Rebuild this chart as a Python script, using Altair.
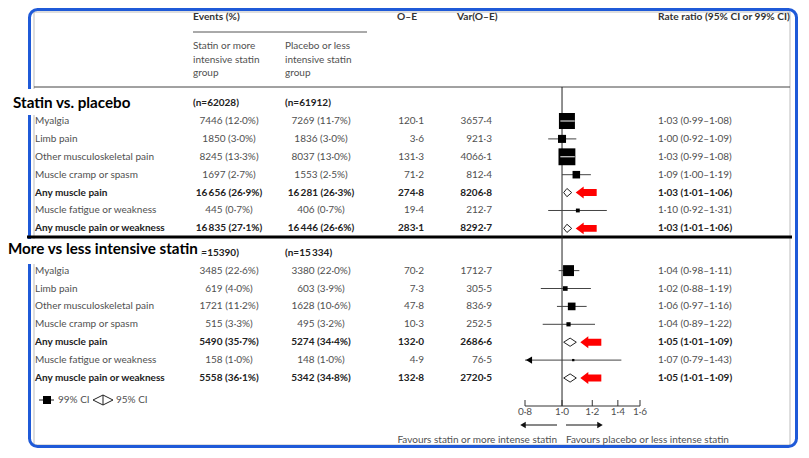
import altair as alt
import pandas as pd

# ---------------- data ----------------
outcomes = ["Myalgia", "Limb pain", "Other musculoskeletal pain", "Muscle cramp or spasm",
            "Any muscle pain", "Muscle fatigue or weakness", "Any muscle pain or weakness"]
is_total = [False, False, False, False, True, False, True]

s1_statin_n = [7446, 1850, 8245, 1697, 16656, 445, 16835]
s1_statin_pct = [12.0, 3.0, 13.3, 2.7, 26.9, 0.7, 27.1]
s1_placebo_n = [7269, 1836, 8037, 1553, 16281, 406, 16446]
s1_placebo_pct = [11.7, 3.0, 13.0, 2.5, 26.3, 0.7, 26.6]
s1_oe = [120.1, 3.6, 131.3, 71.2, 274.8, 19.4, 283.1]
s1_var = [3657.4, 921.3, 4066.1, 812.4, 8206.8, 212.7, 8292.7]
s1_rr = [1.03, 1.00, 1.03, 1.09, 1.03, 1.10, 1.03]
s1_lo = [0.99, 0.92, 0.99, 1.00, 1.01, 0.92, 1.01]
s1_hi = [1.08, 1.09, 1.08, 1.19, 1.06, 1.31, 1.06]

s2_statin_n = [3485, 619, 1721, 515, 5490, 158, 5558]
s2_statin_pct = [22.6, 4.0, 11.2, 3.3, 35.7, 1.0, 36.1]
s2_placebo_n = [3380, 603, 1628, 495, 5274, 148, 5342]
s2_placebo_pct = [22.0, 3.9, 10.6, 3.2, 34.4, 1.0, 34.8]
s2_oe = [70.2, 7.3, 47.8, 10.3, 132.0, 4.9, 132.8]
s2_var = [1712.7, 305.5, 836.9, 252.5, 2686.6, 76.5, 2720.5]
s2_rr = [1.04, 1.02, 1.06, 1.04, 1.05, 1.07, 1.05]
s2_lo = [0.98, 0.88, 0.97, 0.89, 1.01, 0.79, 1.01]
s2_hi = [1.11, 1.19, 1.16, 1.22, 1.09, 1.43, 1.09]

section_titles = ["Statin vs. placebo", "More vs less intensive statin"]
n_statin = ["(n=62028)", "(n=15390)"]
n_placebo = ["(n=61912)", "(n=15\u2009334)"]

tick_values = [0.8, 1.0, 1.2, 1.4, 1.6]
tick_labels = ["0·8", "1·0", "1·2", "1·4", "1·6"]
ref_value = [1.0]


# ---------------- helpers ----------------
def dot(x, nd=1):
    return f"{x:.{nd}f}".replace(".", "·")


def num(n):
    s = f"{n:d}"
    return s[:-3] + "\u2009" + s[-3:] if n >= 10000 else s


sections = [
    (0.0, s1_statin_n, s1_statin_pct, s1_placebo_n, s1_placebo_pct, s1_oe, s1_var, s1_rr, s1_lo, s1_hi),
    (8.36, s2_statin_n, s2_statin_pct, s2_placebo_n, s2_placebo_pct, s2_oe, s2_var, s2_rr, s2_lo, s2_hi),
]
recs = []
for off, sn, sp, pn, pp, oe, var, rr, lo, hi in sections:
    for i, lab in enumerate(outcomes):
        recs.append(dict(
            label=lab, pos=off + i, total=is_total[i],
            statin=f"{num(sn[i])} ({dot(sp[i])}%)",
            placebo=f"{num(pn[i])} ({dot(pp[i])}%)",
            oe=dot(oe[i]), var_txt=dot(var[i]), var=var[i],
            rr_txt=f"{dot(rr[i], 2)} ({dot(lo[i], 2)}–{dot(hi[i], 2)})",
            rr=rr[i], lo=lo[i], hi=hi[i], lo_c=max(lo[i], tick_values[0]),
        ))
rows = pd.DataFrame(recs)
reg = rows[~rows.total]
tot = rows[rows.total]

# diamond outlines built from the CI of the total rows
dia = []
h = 0.23
for k, r in tot.iterrows():
    for j, (xx, yy) in enumerate([(r.lo, r.pos), (r.rr, r.pos - h), (r.hi, r.pos),
                                   (r.rr, r.pos + h), (r.lo, r.pos)]):
        dia.append(dict(key=k, order=j, x=xx, y=yy))
dia = pd.DataFrame(dia)

ticks = pd.DataFrame({"tick": tick_values, "lab": tick_labels})
ref = pd.DataFrame({"v": ref_value})
one = pd.DataFrame({"k": [0]})
nlab = pd.DataFrame({"pos": [-1.0, 7.36], "s": n_statin, "p": n_placebo})

XS = alt.Scale(type="log", domain=[0.8, 1.6], range=[517, 632], nice=False)
YS = alt.Scale(domain=[0, 14.36], range=[113, 370], nice=False, zero=False)


def X(f):
    return alt.X(f, type="quantitative", scale=XS, axis=None)


def X2(f):
    return alt.X2(f)


def Y(f):
    return alt.Y(f, type="quantitative", scale=YS, axis=None)


FONT = "Lato"
GREY = "#505050"
DARK = "#222222"
FS = 10
FSH = 10.2

layers = []

# frames
layers.append(alt.Chart(one).mark_rect(fillOpacity=0, stroke="#bdbdbd", strokeWidth=1).encode(
    x=alt.value(26), x2=alt.value(782), y=alt.value(4), y2=alt.value(437)))
layers.append(alt.Chart(one).mark_rect(fillOpacity=0, stroke="#1f5ad8", strokeWidth=3, cornerRadius=8).encode(
    x=alt.value(21.5), x2=alt.value(788.5), y=alt.value(1.5), y2=alt.value(438.5)))

# header lines
layers.append(alt.Chart(one).mark_rule(color="#555", strokeWidth=1).encode(
    x=alt.value(185), x2=alt.value(359), y=alt.value(24)))
layers.append(alt.Chart(one).mark_rule(color="#444", strokeWidth=1).encode(
    x=alt.value(26), x2=alt.value(782), y=alt.value(79)))
layers.append(alt.Chart(one).mark_rule(color="#000", strokeWidth=3).encode(
    x=alt.value(19), x2=alt.value(784), y=alt.value(229)))

# header text
for t, xp in [("Events (%)", 185), ("O–E", 389), ("Var(O–E)", 449), ("Rate ratio (95% CI or 99% CI)", 650)]:
    layers.append(alt.Chart(one).mark_text(text=t, font=FONT, fontSize=FSH, fontWeight="bold", color="#333",
                                           align="left", baseline="middle").encode(x=alt.value(xp), y=alt.value(9)))
for xp, lines in [(185, ["Statin or more", "intensive statin", "group"]),
                  (277, ["Placebo or less", "intensive statin", "group"])]:
    for yp, t in zip([38, 52, 65], lines):
        layers.append(alt.Chart(one).mark_text(text=t, font=FONT, fontSize=FS, color=GREY,
                                               align="left", baseline="middle").encode(x=alt.value(xp), y=alt.value(yp)))

# n labels
layers.append(alt.Chart(nlab).mark_text(font=FONT, fontSize=FS, fontWeight="bold", color=DARK, align="left",
                                        baseline="middle").encode(x=alt.value(185), y=Y("pos"), text="s:N"))
layers.append(alt.Chart(nlab).mark_text(font=FONT, fontSize=FS, fontWeight="bold", color=DARK, align="left",
                                        baseline="middle").encode(x=alt.value(277), y=Y("pos"), text="p:N"))

# white boxes and section titles
layers.append(alt.Chart(one).mark_rect(color="white").encode(
    x=alt.value(0), x2=alt.value(176), y=alt.value(81), y2=alt.value(107)))
layers.append(alt.Chart(one).mark_rect(color="white").encode(
    x=alt.value(0), x2=alt.value(193), y=alt.value(231), y2=alt.value(256)))
for t, xp, yp in [(section_titles[0], 5, 95), (section_titles[1], 0, 241)]:
    layers.append(alt.Chart(one).mark_text(text=t, font=FONT, fontSize=15.2, fontWeight="bold", color="#000",
                                           align="left", baseline="middle").encode(x=alt.value(xp), y=alt.value(yp)))

# table columns
cols = [("label", 27, "left"), ("statin", 221, "center"), ("placebo", 313, "center"),
        ("oe", 416, "right"), ("var_txt", 484, "right"), ("rr_txt", 650, "left")]
for f, xp, al in cols:
    for d, bold in [(reg, False), (tot, True)]:
        layers.append(alt.Chart(d).mark_text(font=FONT, fontSize=FS, align=al, baseline="middle",
                                             fontWeight="bold" if bold else "normal",
                                             color=DARK if bold else GREY).encode(
            x=alt.value(xp), y=Y("pos"), text=alt.Text(f"{f}:N")))

# reference line at 1
layers.append(alt.Chart(ref).mark_rule(color="#222", strokeWidth=1).encode(
    x=X("v"), y=alt.value(79), y2=alt.value(398)))

# whiskers, squares
layers.append(alt.Chart(reg).mark_rule(color="#444", strokeWidth=1).encode(
    x=X("lo_c"), x2=X2("hi"), y=Y("pos")))
layers.append(alt.Chart(reg).mark_square(color="black", opacity=1, filled=True, strokeWidth=0).encode(
    x=X("rr"), y=Y("pos"),
    size=alt.Size("var:Q", scale=alt.Scale(domain=[0, 4100], range=[0, 287]), legend=None)))
layers.append(alt.Chart(reg).transform_filter("datum.var > 3000").mark_rule(color="white", strokeWidth=1).encode(
    x=X("lo"), x2=X2("hi"), y=Y("pos")))
layers.append(alt.Chart(reg).transform_filter("datum.lo < 0.8").mark_point(
    shape="triangle-left", filled=True, color="black", opacity=1, size=50, xOffset=4).encode(
    x=X("lo_c"), y=Y("pos")))

# diamonds
layers.append(alt.Chart(dia).mark_line(color="#222", strokeWidth=1).encode(
    x=X("x"), y=Y("y"), detail="key:N", order="order:Q"))

# red arrows
arrow = "M -1 0 L -0.24 -0.57 L -0.24 -0.33 L 1 -0.33 L 1 0.33 L -0.24 0.33 L -0.24 0.57 Z"
layers.append(alt.Chart(tot).mark_point(shape=arrow, filled=True, color="#ff0000", opacity=1, size=441,
                                        strokeWidth=0, xOffset=14.5).encode(x=X("hi"), y=Y("pos")))

# axis
layers.append(alt.Chart(ticks).mark_rule(color="#333", strokeWidth=1).encode(
    x=alt.X("min(tick):Q", scale=XS, axis=None), x2=alt.X2("max(tick)"), y=alt.value(398)))
layers.append(alt.Chart(ticks).mark_rule(color="#333", strokeWidth=1).encode(
    x=X("tick"), y=alt.value(392), y2=alt.value(398)))
layers.append(alt.Chart(ticks).mark_text(font=FONT, fontSize=FS, color=GREY, baseline="middle").encode(
    x=X("tick"), y=alt.value(404), text="lab:N"))

# favours arrows + text
layers.append(alt.Chart(one).mark_rule(color="#111", strokeWidth=1).encode(
    x=alt.value(514), x2=alt.value(549), y=alt.value(417)))
layers.append(alt.Chart(one).mark_rule(color="#111", strokeWidth=1).encode(
    x=alt.value(558), x2=alt.value(593), y=alt.value(417)))
layers.append(alt.Chart(one).mark_point(shape="triangle-left", filled=True, color="#111", opacity=1, size=40).encode(
    x=alt.value(515), y=alt.value(417)))
layers.append(alt.Chart(one).mark_point(shape="triangle-right", filled=True, color="#111", opacity=1, size=40).encode(
    x=alt.value(592), y=alt.value(417)))
layers.append(alt.Chart(one).mark_text(text="Favours statin or more intense statin", font=FONT, fontSize=FS,
                                       color=GREY, align="right", baseline="middle").encode(
    x=alt.value(549), y=alt.value(432)))
layers.append(alt.Chart(one).mark_text(text="Favours placebo or less intense statin", font=FONT, fontSize=FS,
                                       color=GREY, align="left", baseline="middle").encode(
    x=alt.value(558), y=alt.value(432)))

# legend
layers.append(alt.Chart(one).mark_rule(color="#222", strokeWidth=1).encode(
    x=alt.value(31), x2=alt.value(46), y=alt.value(392)))
layers.append(alt.Chart(one).mark_square(color="black", filled=True, opacity=1, size=64).encode(
    x=alt.value(39), y=alt.value(392)))
layers.append(alt.Chart(one).mark_text(text="99% CI", font=FONT, fontSize=FS, color=GREY, align="left",
                                       baseline="middle").encode(x=alt.value(50), y=alt.value(392)))
leg_dia = "M -1 0 L 0 -0.5 L 1 0 L 0 0.5 Z M 0 -0.5 L 0 0.5"
layers.append(alt.Chart(one).mark_point(shape=leg_dia, filled=False, color="#222", opacity=1, size=400,
                                        strokeWidth=1).encode(x=alt.value(95), y=alt.value(392)))
layers.append(alt.Chart(one).mark_text(text="95% CI", font=FONT, fontSize=FS, color=GREY, align="left",
                                       baseline="middle").encode(x=alt.value(108), y=alt.value(392)))

chart = alt.layer(*layers).properties(
    width=793, height=440, padding=0, autosize=alt.AutoSizeParams(type="none"), background="white"
).configure_view(strokeWidth=0)

chart.save("out.html", embed_options={"renderer": "svg", "actions": False})
